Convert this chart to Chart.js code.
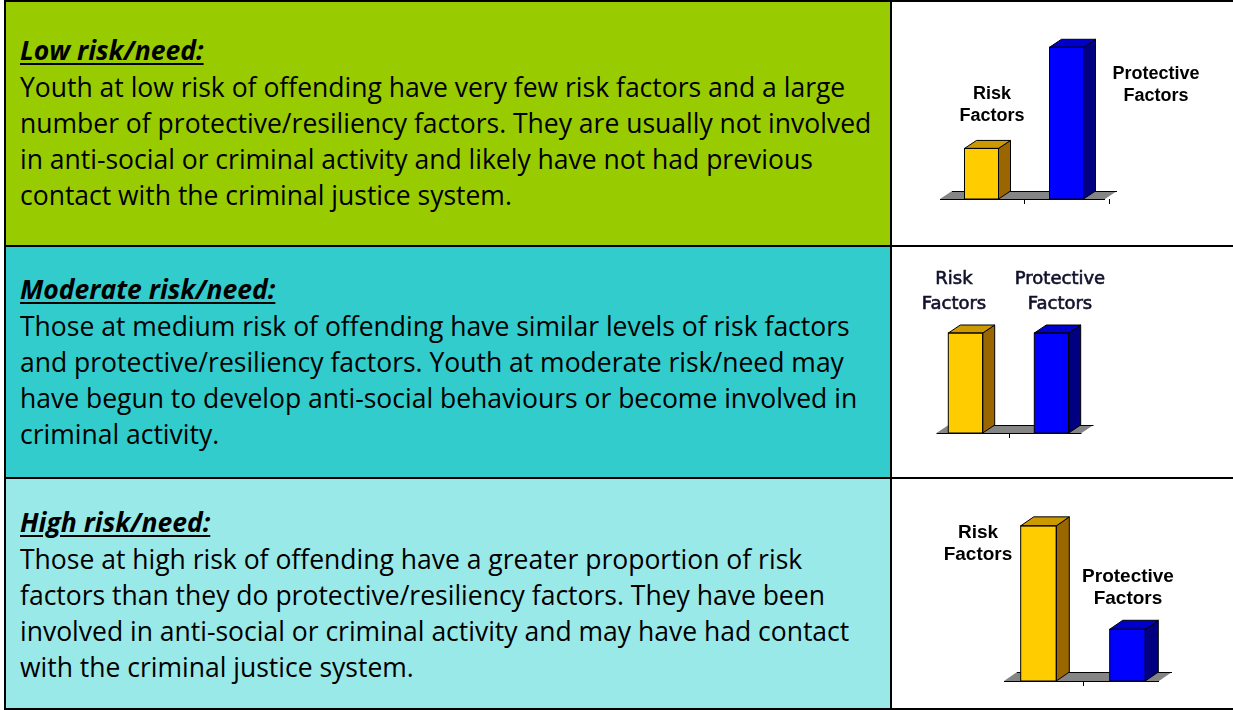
<!DOCTYPE html>
<html>
<head>
<meta charset="utf-8">
<script src="https://cdn.jsdelivr.net/npm/chart.js@4.4.1/dist/chart.umd.min.js"></script>
<style>
  html, body { margin: 0; padding: 0; background: #ffffff; }
  body { width: 1233px; height: 710px; position: relative; overflow: hidden; }
  .cell { position: absolute; box-sizing: border-box; }
  .line { position: absolute; background: #000; }
  .txt { position: absolute; left: 20px; font-family: "Open Sans", sans-serif; font-size: 26.5px; line-height: 36px; color: #000; white-space: nowrap; }
  .ttl { font-weight: bold; font-style: italic; text-decoration: underline; text-decoration-thickness: 2px; text-underline-offset: 3px; margin-bottom: 1px; }
  canvas { position: absolute; }
</style>
</head>
<body>
  <div class="cell" style="left:6px;top:2px;width:884px;height:243px;background:#99cc00"></div>
  <div class="cell" style="left:6px;top:247px;width:884px;height:230px;background:#33cccc"></div>
  <div class="cell" style="left:6px;top:479px;width:884px;height:229px;background:#9ae9e9"></div>

  <div class="line" style="left:4px;top:0;width:1229px;height:2px"></div>
  <div class="line" style="left:4px;top:245px;width:1229px;height:2px"></div>
  <div class="line" style="left:4px;top:477px;width:1229px;height:2px"></div>
  <div class="line" style="left:4px;top:708px;width:1229px;height:2px"></div>
  <div class="line" style="left:4px;top:0;width:2px;height:710px"></div>
  <div class="line" style="left:890px;top:0;width:2px;height:710px"></div>

  <div class="txt" id="t1" style="top:32px"></div>
  <div class="txt" id="t2" style="top:271px"></div>
  <div class="txt" id="t3" style="top:504px"></div>

  <canvas id="c1" width="341" height="243" style="left:892px;top:2px"></canvas>
  <canvas id="c2" width="341" height="230" style="left:892px;top:247px"></canvas>
  <canvas id="c3" width="341" height="229" style="left:892px;top:479px"></canvas>

<script>
// ---------- data ----------
const categories = ['Risk Factors', 'Protective Factors'];
const lowValues = [1, 3];
const moderateValues = [2, 2];
const highValues = [3, 1];

const rowTitles = ['Low risk/need:', 'Moderate risk/need:', 'High risk/need:'];
const lowText = [
  'Youth at low risk of offending have very few risk factors and a large',
  'number of protective/resiliency factors. They are usually not involved',
  'in anti-social or criminal activity and likely have not had previous',
  'contact with the criminal justice system.'
];
const moderateText = [
  'Those at medium risk of offending have similar levels of risk factors',
  'and protective/resiliency factors. Youth at moderate risk/need may',
  'have begun to develop anti-social behaviours or become involved in',
  'criminal activity.'
];
const highText = [
  'Those at high risk of offending have a greater proportion of risk',
  'factors than they do protective/resiliency factors. They have been',
  'involved in anti-social or criminal activity and may have had contact',
  'with the criminal justice system.'
];

// ---------- text cells ----------
function fillText(id, title, lines) {
  const el = document.getElementById(id);
  const t = document.createElement('div');
  t.className = 'ttl';
  t.textContent = title;
  el.appendChild(t);
  lines.forEach(l => { const d = document.createElement('div'); d.textContent = l; el.appendChild(d); });
}
fillText('t1', rowTitles[0], lowText);
fillText('t2', rowTitles[1], moderateText);
fillText('t3', rowTitles[2], highText);

// ---------- 3D bar plugin ----------
const frontColors = ['#ffcc00', '#0000ff'];
const topColors = ['#cc9900', '#0000cc'];
const sideColors = ['#996600', '#000080'];

const bar3d = {
  id: 'bar3d',
  beforeDatasetsDraw(chart, args, opts) {
    const ctx = chart.ctx;
    const a = chart.chartArea;
    const xs = chart.scales.x;
    const dx = opts.dx, dy = opts.dy;
    const base = a.bottom;
    const l = a.left + opts.floorLeft, r = a.right + opts.floorRight;
    ctx.save();
    ctx.fillStyle = '#858585';
    ctx.strokeStyle = '#000';
    ctx.lineWidth = 1;
    ctx.beginPath();
    ctx.moveTo(l, base);
    ctx.lineTo(r, base);
    ctx.lineTo(r + dx, base + dy);
    ctx.lineTo(l + dx, base + dy);
    ctx.closePath();
    ctx.fill();
    ctx.beginPath();
    ctx.moveTo(l, base + 0.5); ctx.lineTo(r, base + 0.5);
    ctx.moveTo(l + dx, base + dy + 0.5); ctx.lineTo(r + dx, base + dy + 0.5);
    ctx.stroke();
    // category boundary ticks
    const w = (xs.getPixelForValue(1) - xs.getPixelForValue(0));
    opts.ticks.forEach(i => {
      const x = Math.round(xs.getPixelForValue(0) - w / 2 + i * w) + 0.5;
      ctx.beginPath();
      ctx.moveTo(x, base);
      ctx.lineTo(x, base + 5);
      ctx.stroke();
    });
    ctx.restore();
  },
  afterDatasetsDraw(chart, args, opts) {
    const ctx = chart.ctx;
    const dx = opts.dx, dy = opts.dy;
    const meta = chart.getDatasetMeta(0);
    ctx.save();
    ctx.strokeStyle = '#000';
    ctx.lineWidth = 1;
    ctx.lineJoin = 'miter';
    meta.data.forEach((bar, i) => {
      const p = bar.getProps(['x', 'y', 'base', 'width'], true);
      const L = p.x - p.width / 2, R = p.x + p.width / 2;
      ctx.fillStyle = sideColors[i];
      ctx.beginPath();
      ctx.moveTo(R, p.base); ctx.lineTo(R, p.y);
      ctx.lineTo(R + dx, p.y + dy); ctx.lineTo(R + dx, p.base + dy);
      ctx.closePath(); ctx.fill(); ctx.stroke();
      ctx.fillStyle = topColors[i];
      ctx.beginPath();
      ctx.moveTo(L, p.y); ctx.lineTo(R, p.y);
      ctx.lineTo(R + dx, p.y + dy); ctx.lineTo(L + dx, p.y + dy);
      ctx.closePath(); ctx.fill(); ctx.stroke();
      ctx.strokeRect(L, p.y, p.width, p.base - p.y);
    });
    // labels
    ctx.fillStyle = opts.labelColor;
    ctx.strokeStyle = opts.labelColor;
    ctx.lineWidth = opts.labelStroke;
    ctx.font = opts.font;
    ctx.textAlign = 'center';
    ctx.textBaseline = 'middle';
    chart.data.labels.forEach((lab, i) => {
      const pos = opts.labelPos[i];
      lab.split(' ').forEach((word, k) => {
        ctx.fillText(word, pos[0], pos[1] + k * opts.lineGap);
        if (opts.labelStroke > 0) ctx.strokeText(word, pos[0], pos[1] + k * opts.lineGap);
      });
    });
    ctx.restore();
  }
};

function makeChart(id, values, cfg) {
  return new Chart(document.getElementById(id), {
    type: 'bar',
    data: {
      labels: categories,
      datasets: [{
        data: values,
        backgroundColor: frontColors,
        borderWidth: 0,
        barPercentage: 0.4,
        categoryPercentage: 1.0
      }]
    },
    options: {
      responsive: false,
      animation: false,
      devicePixelRatio: 1,
      events: [],
      layout: { padding: cfg.padding },
      scales: {
        x: { display: false, offset: true },
        y: { display: false, min: 0, max: cfg.max }
      },
      plugins: {
        legend: { display: false },
        tooltip: { enabled: false },
        bar3d: {
          dx: cfg.dx, dy: cfg.dy,
          floorLeft: cfg.floorLeft, floorRight: cfg.floorRight,
          ticks: cfg.ticks,
          font: cfg.font, labelColor: cfg.labelColor, labelStroke: cfg.labelStroke,
          lineGap: cfg.lineGap, labelPos: cfg.labelPos
        }
      }
    },
    plugins: [bar3d]
  });
}

makeChart('c1', lowValues, {
  padding: { left: 47, right: 124, top: 20, bottom: 46 },
  max: 3.5, dx: 12, dy: -8, floorLeft: 1, floorRight: -4, ticks: [1, 2],
  font: 'bold 18px "Liberation Sans", Arial, sans-serif', labelColor: '#000', labelStroke: 0,
  lineGap: 22, labelPos: [[100, 92], [264, 72]]
});
makeChart('c2', moderateValues, {
  padding: { left: 30.5, right: 138.5, top: 11, bottom: 44 },
  max: 3.5, dx: 12, dy: -8, floorLeft: 14, floorRight: -13, ticks: [1],
  font: '18px "DejaVu Sans", Tahoma, sans-serif', labelColor: '#10102a', labelStroke: 0.6,
  lineGap: 25, labelPos: [[62, 32], [168, 32]]
});
makeChart('c3', highValues, {
  padding: { left: 102, right: 61, top: 21, bottom: 27 },
  max: 3.5, dx: 13, dy: -9, floorLeft: 10, floorRight: -13, ticks: [1],
  font: 'bold 19px "Liberation Sans", Arial, sans-serif', labelColor: '#000', labelStroke: 0,
  lineGap: 22, labelPos: [[86, 54], [236, 98]]
});
</script>
</body>
</html>
